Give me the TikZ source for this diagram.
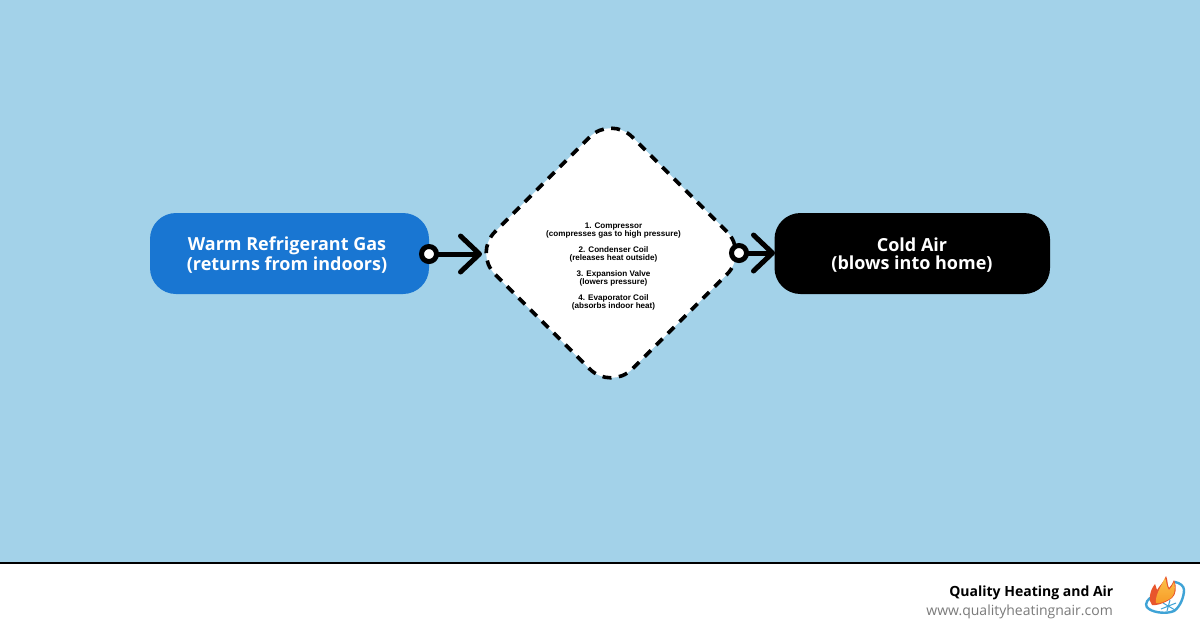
\documentclass[tikz,border=0pt]{standalone}
\usepackage{fontspec}
\setmainfont{Open Sans}
\newfontfamily\stepfont{Liberation Sans}
\usetikzlibrary{arrows.meta,shapes.geometric}
\definecolor{skybg}{HTML}{A3D2E9}
\definecolor{startblue}{HTML}{1976D2}
\definecolor{urlgray}{HTML}{7A7A7A}
\definecolor{ringblue}{HTML}{3FA3D6}
\definecolor{flameA}{HTML}{E8552C}
\definecolor{flameB}{HTML}{F79A26}
\definecolor{flameC}{HTML}{FBC04A}
\tikzset{
  term/.style={rounded corners=26pt,minimum height=81pt,inner sep=0pt},
  termtext/.style={align=center,inner sep=0pt,text=white,font=\fontsize{18}{18}\selectfont\bfseries},
  hub/.style={diamond,aspect=1,draw=black,fill=white,line width=3.6pt,dash pattern=on 9pt off 7.5pt,
    minimum width=276pt,minimum height=276pt,inner sep=0pt,rounded corners=30pt},
  hubtext/.style={align=center,inner sep=0pt,font=\fontsize{8.1}{8}\selectfont\stepfont\bfseries},
  port/.style={circle,draw=black,fill=white,line width=5pt,minimum size=15pt,inner sep=0pt},
  flow/.style={draw=black,line width=5pt,line cap=round,
    -{Straight Barb[length=19pt,width=36pt,line width=5pt,round]}},
}
\begin{document}
\begin{tikzpicture}[x=1pt,y=-1pt]
\useasboundingbox (0,0) rectangle (1200,630);
\fill[skybg] (0,0) rectangle (1200,563);
\fill[white] (0,563) rectangle (1200,630);
\fill[black] (0,562) rectangle (1200,564);
\node[term,fill=startblue,minimum width=279pt] (warm) at (289.5,253.5) {};
\node[term,fill=black,minimum width=275.5pt] (cold) at (912.25,253.5) {};
\node[termtext] (warmtext) at (287,255) {Warm Refrigerant Gas\\(returns from indoors)};
\node[termtext] (coldtext) at (912,255) {Cold Air\\(blows into home)};
\node[hub] (coil) at (611,253) {};
\node[hubtext] (coiltext) at (613.5,266.5) {1. Compressor\\(compresses gas to high pressure)\\[8pt]
2. Condenser Coil\\(releases heat outside)\\[8pt]
3. Expansion Valve\\(lowers pressure)\\[8pt]
4. Evaporator Coil\\(absorbs indoor heat)};
\coordinate (t1) at (482,254);
\coordinate (t2) at (775,253);
\draw[flow] (warm.east) ++(0,0.5) -- (t1);
\draw[flow] (coil.east) ++(-8,0) -- (t2);
\node[port] (p1) at (429,254) {};
\node[port] (p2) at (739,253) {};
\node[anchor=base east,inner sep=0pt,font=\fontsize{14}{16}\selectfont\bfseries] (brand) at (1113.5,596) {Quality Heating and Air};
\node[anchor=base east,inner sep=0pt,text=urlgray,font=\fontsize{14}{16}\selectfont] (site) at (1113,615) {www.qualityheatingnair.com};
% logo
\fill[white] (1155,606) .. controls (1160,602) and (1172,597) .. (1181,594) .. controls (1182,604) and (1174,613) .. (1166,613) .. controls (1160,613) and (1157,610) .. (1155,606) -- cycle;
\draw[ringblue,line width=1pt] (1167,611) -- (1170,600) (1161,609) -- (1176,603) (1163,603) -- (1175,610);
\draw[ringblue,line width=2.4pt,line cap=round] (1150,598) .. controls (1145,602) and (1145,607) .. (1149,609)
  .. controls (1155,613) and (1167,614) .. (1174,611) .. controls (1180,607) and (1184,597) .. (1184,590)
  .. controls (1184,586) and (1180,583) .. (1175,582);
\fill[flameA] (1150,601) .. controls (1149,593) and (1152,588) .. (1155,584) .. controls (1156,586) and (1156,588) .. (1157,590)
  .. controls (1160,585) and (1164,582) .. (1166,576) .. controls (1168,580) and (1167,584) .. (1169,588)
  .. controls (1171,586) and (1173,583) .. (1174,580) .. controls (1177,587) and (1176,595) .. (1172,598)
  .. controls (1167,602) and (1157,606) .. (1152,605) -- cycle;
\shade[top color=flameC,bottom color=flameB] (1156,603) .. controls (1155,596) and (1160,588) .. (1165,578) .. controls (1167,582) and (1166,586) .. (1169,590)
  .. controls (1171,588) and (1172,586) .. (1174,582) .. controls (1176,590) and (1174,595) .. (1171,598) .. controls (1166,601) and (1160,604) .. (1156,603) -- cycle;
\end{tikzpicture}
\end{document}
